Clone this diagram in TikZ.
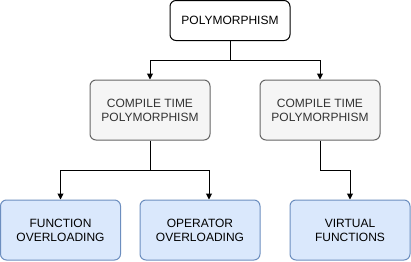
\documentclass[tikz,border=0pt]{standalone}
\usepackage{fontspec}
\setmainfont{Liberation Sans}
\usetikzlibrary{arrows.meta}
\definecolor{grayfill}{HTML}{F5F5F5}
\definecolor{graystroke}{HTML}{666666}
\definecolor{bluefill}{HTML}{DAE8FC}
\definecolor{bluestroke}{HTML}{6C8EBF}
\definecolor{textdark}{HTML}{333333}
\begin{document}
\begin{tikzpicture}[x=0.75pt,y=-0.75pt,
  box/.style={draw, rounded corners=4.5pt, line width=0.75pt, align=center,
    font=\fontsize{9pt}{10.5pt}\selectfont, inner sep=0pt},
  rootbox/.style={box, fill=white, draw=black, minimum width=90pt, minimum height=30pt},
  midbox/.style={box, fill=grayfill, draw=graystroke, text=textdark, minimum width=90pt, minimum height=45pt},
  leafbox/.style={box, fill=bluefill, draw=bluestroke, minimum width=90pt, minimum height=45pt},
  link/.style={line width=0.75pt, draw=black},
  arrowlink/.style={link, -{Triangle[length=4.5pt,width=4.5pt]}}]
\useasboundingbox (0,0) rectangle (411,261);

\node[rootbox] (root) at (230,20.5) {POLYMORPHISM};
\node[midbox] (ctleft) at (150,110) {COMPILE TIME\\POLYMORPHISM};
\node[midbox] (ctright) at (320,110) {COMPILE TIME\\POLYMORPHISM};
\node[leafbox] (fo) at (60.5,230) {FUNCTION\\OVERLOADING};
\node[leafbox] (oo) at (200,230) {OPERATOR\\OVERLOADING};
\node[leafbox] (vf) at (350,230) {VIRTUAL\\FUNCTIONS};

\coordinate (rootsplit) at (230,60);
\coordinate (leftsplit) at (150,170);
\coordinate (rightsplit) at (320,170);

\draw[link] (root.south) -- (rootsplit);
\draw[arrowlink] (rootsplit) -| (ctleft.north);
\draw[arrowlink] (rootsplit) -| (ctright.north);

\draw[link] (ctleft.south) -- (leftsplit);
\draw[arrowlink] (leftsplit) -| (fo.north);
\draw[arrowlink] (leftsplit) -| ([xshift=6.75pt]oo.north);

\draw[link] (ctright.south) -- (rightsplit);
\draw[arrowlink] (rightsplit) -| (vf.north);
\end{tikzpicture}
\end{document}
